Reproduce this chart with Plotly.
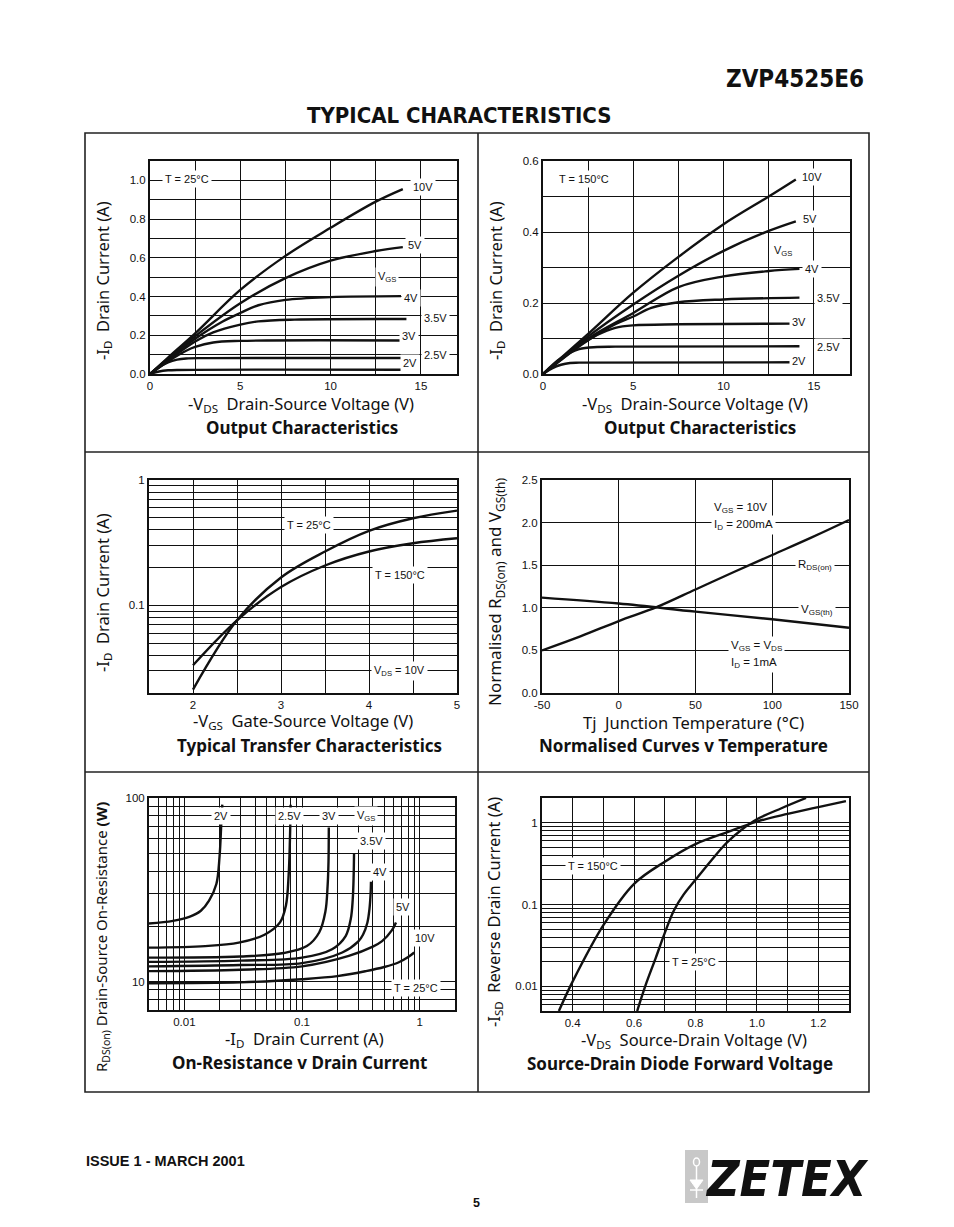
import numpy as np
import plotly.graph_objects as go

W, H = 954, 1227

# ---------------- DATA ----------------
# Panel 1: Output characteristics, T = 25 C
out25_labels = ["10V", "5V", "4V", "3.5V", "3V", "2.5V", "2V"]
out25_vds = [
    [0, 1, 2.5, 5, 7.5, 10, 12.5, 14],
    [0, 1, 2.5, 5, 7.5, 10, 12.5, 14],
    [0, 1, 2.5, 4, 5, 6, 7.5, 10, 13.9],
    [0, 1, 2.5, 3.5, 5, 6, 8, 14.2],
    [0, 1, 2, 2.5, 3.5, 5, 14],
    [0, 0.5, 1, 1.5, 2, 3, 14],
    [0, 0.5, 1, 1.5, 14],
]
out25_id = [
    [0, 0.085, 0.21, 0.434, 0.61, 0.755, 0.89, 0.955],
    [0, 0.08, 0.195, 0.365, 0.495, 0.585, 0.635, 0.655],
    [0, 0.075, 0.182, 0.27, 0.315, 0.355, 0.383, 0.397, 0.402],
    [0, 0.07, 0.168, 0.215, 0.255, 0.272, 0.281, 0.284],
    [0, 0.065, 0.12, 0.14, 0.163, 0.171, 0.173],
    [0, 0.035, 0.06, 0.074, 0.08, 0.082, 0.083],
    [0, 0.013, 0.019, 0.021, 0.022],
]

# Panel 2: Output characteristics, T = 150 C
out150_vds = [
    [0, 1, 2.5, 5, 7.5, 10, 12.5, 14],
    [0, 1, 2.5, 5, 7.5, 10, 12.5, 14],
    [0, 1, 2.5, 5, 7.5, 10, 12.5, 14.2],
    [0, 1, 2.5, 4, 5, 6, 7.5, 10, 14.2],
    [0, 1, 2, 3, 4, 5, 7.5, 14],
    [0, 1, 2, 3, 4, 14.2],
    [0, 0.5, 1, 1.5, 2, 14],
]
out150_id = [
    [0, 0.045, 0.113, 0.229, 0.33, 0.422, 0.50, 0.548],
    [0, 0.043, 0.106, 0.196, 0.277, 0.347, 0.403, 0.43],
    [0, 0.042, 0.10, 0.172, 0.245, 0.275, 0.29, 0.296],
    [0, 0.04, 0.095, 0.14, 0.162, 0.186, 0.202, 0.21, 0.215],
    [0, 0.04, 0.08, 0.11, 0.13, 0.137, 0.14, 0.142],
    [0, 0.045, 0.07, 0.076, 0.077, 0.078],
    [0, 0.016, 0.026, 0.031, 0.032, 0.033],
]

# Panel 3: Transfer characteristics
tr_vgs = [2, 2.5, 3, 3.5, 4, 4.5, 5]
tr_id25 = [0.0213, 0.076, 0.167, 0.269, 0.393, 0.495, 0.57]
tr_id150 = [0.0333, 0.076, 0.14, 0.208, 0.269, 0.313, 0.343]

# Panel 4: Normalised curves v temperature
nt_tj = [-50, -25, 0, 25, 50, 75, 100, 125, 150]
nt_rds = [0.5, 0.665, 0.845, 1.01, 1.215, 1.42, 1.62, 1.82, 2.03]
nt_tj_vth = [-50, 0, 50, 100, 150]
nt_vth = [1.12, 1.05, 0.955, 0.865, 0.765]

# Panel 5: On-resistance v drain current (T = 25 C)
ron_labels = ["2V", "2.5V", "3V", "3.5V", "4V", "5V", "10V"]
ron_id = [
    [0.005, 0.008, 0.011, 0.0138, 0.0162, 0.0187, 0.0199, 0.0206, 0.021],
    [0.005, 0.015, 0.029, 0.048, 0.065, 0.073, 0.077, 0.079, 0.08],
    [0.005, 0.03, 0.07, 0.11, 0.14, 0.158, 0.165, 0.168, 0.169],
    [0.005, 0.03, 0.1, 0.18, 0.235, 0.26, 0.27, 0.275, 0.277],
    [0.005, 0.03, 0.1, 0.22, 0.3, 0.33, 0.36, 0.375, 0.383, 0.386],
    [0.005, 0.03, 0.1, 0.25, 0.4, 0.48, 0.58, 0.63],
    [0.005, 0.03, 0.1, 0.2, 0.35, 0.5, 0.66, 0.8, 0.9],
]
ron_r = [
    [20.7, 21.4, 22.5, 24.3, 27.6, 34, 48, 73, 92],
    [15.3, 15.6, 16.3, 18, 21, 26, 38, 60, 92],
    [13.5, 13.7, 14.3, 15.6, 18.5, 24, 33, 45, 69],
    [12.8, 13.0, 13.5, 15, 17.7, 22, 28, 38, 50],
    [12.1, 12.3, 12.6, 14.4, 16.5, 18, 21, 25, 30, 35],
    [11.4, 11.6, 12.1, 13.8, 15.5, 16.6, 19, 21],
    [9.8, 9.9, 10.3, 10.7, 11.4, 12, 12.7, 13.6, 14.4],
]

# Panel 6: Source-drain diode forward voltage
sd_v150 = [0.355, 0.4, 0.5, 0.6, 0.7, 0.8, 0.9, 1.0, 1.1, 1.2, 1.29]
sd_i150 = [0.005, 0.0115, 0.056, 0.179, 0.333, 0.546, 0.757, 1.03, 1.28, 1.55, 1.83]
sd_v25 = [0.61, 0.64, 0.67, 0.70, 0.73, 0.76, 0.8, 0.85, 0.9, 0.95, 1.0, 1.08, 1.16]
sd_i25 = [0.005, 0.011, 0.022, 0.045, 0.085, 0.13, 0.2, 0.34, 0.56, 0.82, 1.1, 1.5, 2.0]

# ---------------- HELPERS ----------------
OFF = 8  # page offset of the figure inside the browser page


def px(x):
    return (x - OFF) / W


def py(y):
    return 1 - (y - OFF) / H


def dom_x(a, b):
    return [px(a), px(b)]


def dom_y(top, bottom):
    return [py(bottom), py(top)]


TICKFONT = dict(family="Liberation Sans, Arial", size=11.5, color="#111")
LBLFONT = dict(family="Liberation Sans, Arial", size=11, color="#111")
TITLEFONT = dict(family="Noto Sans, Open Sans", size=16.5, color="#111")
SUBFONT = dict(family="Noto Sans, Open Sans", size=17, color="#111", weight="bold")


def axis(domain, anchor, **kw):
    d = dict(domain=domain, anchor=anchor, showline=True, mirror=True,
             linecolor="#111", linewidth=2, showgrid=True, gridcolor="#111",
             gridwidth=1, zeroline=False, ticks="", tickfont=TICKFONT,
             fixedrange=True, automargin=False)
    d.update(kw)
    return d


def log_vals(lo, hi, shown):
    vals = []
    e = int(np.floor(np.log10(lo)))
    while 10 ** e <= hi * 1.0001:
        for m in range(1, 10):
            v = m * 10 ** e
            if lo * 0.9999 <= v <= hi * 1.0001:
                vals.append(round(v, 10))
        e += 1
    text = [(s if (s := shown.get(v)) is not None else "") for v in vals]
    return vals, text


fig = go.Figure()


def curve(xs, ys, ax):
    fig.add_trace(go.Scatter(
        x=xs, y=ys, mode="lines", xaxis="x" + ax, yaxis="y" + ax,
        line=dict(color="#111", width=2.4, shape="spline", smoothing=1.0),
        showlegend=False, hoverinfo="skip"))


for xs, ys in zip(out25_vds, out25_id):
    curve(xs, ys, "")
for xs, ys in zip(out150_vds, out150_id):
    curve(xs, ys, "2")
curve(tr_vgs, tr_id25, "3")
curve(tr_vgs, tr_id150, "3")
curve(nt_tj, nt_rds, "4")
curve(nt_tj_vth, nt_vth, "4")
for xs, ys in zip(ron_id, ron_r):
    curve(xs, ys, "5")
curve(sd_v150, sd_i150, "6")
curve(sd_v25, sd_i25, "6")

# ---------------- AXES ----------------
vx = [0, 2.5, 5, 7.5, 10, 12.5, 15]
vx_t = ["0", "", "5", "", "10", "", "15"]
y1v = [round(0.1 * i, 1) for i in range(11)]
y1t = [f"{v:.1f}" if i % 2 == 0 else "" for i, v in enumerate(y1v)]
y2v = [round(0.1 * i, 1) for i in range(7)]
y2t = [f"{v:.1f}" if i % 2 == 0 else "" for i, v in enumerate(y2v)]

x3v = [1.5, 2, 2.5, 3, 3.5, 4, 4.5, 5]
x3t = ["", "2", "", "3", "", "4", "", "5"]
y3v, y3t = log_vals(0.02, 1, {0.1: "0.1", 1: "1"})

x4v = [-50, 0, 50, 100, 150]
x4t = ["-50", "0", "50", "100", "150"]

x5v, x5t = log_vals(0.005, 2, {0.01: "0.01", 0.1: "0.1", 1: "1"})
y5v, y5t = log_vals(7, 100, {10: "10", 100: "100"})

x6v = [round(0.3 + 0.1 * i, 1) for i in range(11)]
x6t = [f"{v:.1f}" if v in (0.4, 0.6, 0.8, 1.0, 1.2) else "" for v in x6v]
y6v, y6t = log_vals(0.005, 2, {0.01: "0.01", 0.1: "0.1", 1: "1"})

fig.update_layout(
    xaxis=axis(dom_x(150, 457), "y", range=[0, 17], tickvals=vx, ticktext=vx_t),
    yaxis=axis(dom_y(161, 374), "x", range=[0, 1.1], tickvals=y1v, ticktext=y1t),
    xaxis2=axis(dom_x(543, 850), "y2", range=[0, 17], tickvals=vx, ticktext=vx_t),
    yaxis2=axis(dom_y(161, 374), "x2", range=[0, 0.6], tickvals=y2v, ticktext=y2t),
    xaxis3=axis(dom_x(149, 457), "y3", range=[1.5, 5], tickvals=x3v, ticktext=x3t),
    yaxis3=axis(dom_y(480, 693), "x3", type="log", range=[np.log10(0.02), 0],
                tickvals=y3v, ticktext=y3t),
    xaxis4=axis(dom_x(542, 849), "y4", range=[-50, 150],
                tickvals=x4v, ticktext=x4t),
    yaxis4=axis(dom_y(480, 693), "x4", range=[0, 2.5],
                tickvals=[0, 0.5, 1, 1.5, 2, 2.5],
                ticktext=["0.0", "0.5", "1.0", "1.5", "2.0", "2.5"]),
    xaxis5=axis(dom_x(149, 455), "y5", type="log",
                range=[np.log10(0.005), np.log10(2)], tickvals=x5v, ticktext=x5t),
    yaxis5=axis(dom_y(798, 1010), "x5", type="log",
                range=[np.log10(7), 2], tickvals=y5v, ticktext=y5t),
    xaxis6=axis(dom_x(542, 849), "y6", range=[0.3, 1.3], tickvals=x6v, ticktext=x6t),
    yaxis6=axis(dom_y(798, 1011), "x6", type="log",
                range=[np.log10(0.005), np.log10(2)], tickvals=y6v, ticktext=y6t),
)

# ---------------- ANNOTATIONS ----------------
ann = []


def lab(text, x, y, ax, xanchor="center", size=11):
    ann.append(dict(text=text, x=x, y=y, xref="x" + ax, yref="y" + ax,
                    showarrow=False, bgcolor="white", borderpad=2,
                    xanchor=xanchor, yanchor="middle",
                    font=dict(LBLFONT, size=size)))


p1_lab = [("T = 25°C", 2.04, 1.009), ("10V", 15.1, 0.966), ("5V", 14.7, 0.666),
          ("V<sub>GS</sub>", 13.1, 0.503), ("4V", 14.45, 0.39),
          ("3.5V", 15.8, 0.29), ("3V", 14.35, 0.194), ("2.5V", 15.8, 0.10),
          ("2V", 14.4, 0.057)]
for t, x, y in p1_lab:
    lab(t, x, y, "")

p2_lab = [("T = 150°C", 2.27, 0.55), ("10V", 14.9, 0.555), ("5V", 14.8, 0.436),
          ("V<sub>GS</sub>", 13.3, 0.346), ("4V", 14.9, 0.296),
          ("3.5V", 15.8, 0.213), ("3V", 14.2, 0.146), ("2.5V", 15.8, 0.076),
          ("2V", 14.2, 0.036)]
for t, x, y in p2_lab:
    lab(t, x, y, "2")

p3_lab = [("T = 25°C", 3.32, 0.438), ("T = 150°C", 4.35, 0.175),
          ("V<sub>DS</sub> = 10V", 4.35, 0.0298)]
for t, x, y in p3_lab:
    lab(t, x, np.log10(y), "3")

p4_lab = [("V<sub>GS</sub> = 10V", 60.4, 2.17, "left"),
          ("I<sub>D</sub> = 200mA", 60.4, 1.97, "left"),
          ("R<sub>DS(on)</sub>", 127.8, 1.5, "center"),
          ("V<sub>GS(th)</sub>", 129, 0.98, "center"),
          ("V<sub>GS</sub> = V<sub>DS</sub>", 70.9, 0.55, "left"),
          ("I<sub>D</sub> = 1mA", 70.9, 0.357, "left")]
for t, x, y, a in p4_lab:
    lab(t, x, y, "4", xanchor=a, size=11.5)

p5_lab = [("2V", 0.0203, 80), ("2.5V", 0.0787, 80), ("3V", 0.168, 80),
          ("V<sub>GS</sub>", 0.347, 80), ("3.5V", 0.389, 58), ("4V", 0.46, 39.5),
          ("5V", 0.728, 25.4), ("10V", 1.12, 17.2), ("T = 25°C", 0.94, 9.2)]
for t, x, y in p5_lab:
    lab(t, np.log10(x), np.log10(y), "5")

p6_lab = [("T = 150°C", 0.465, 0.293), ("T = 25°C", 0.795, 0.0201)]
for t, x, y in p6_lab:
    lab(t, x, np.log10(y), "6")


def ptext(text, x, y, font, angle=0, xanchor="center", yanchor="middle"):
    ann.append(dict(text=text, x=px(x), y=py(y), xref="paper", yref="paper",
                    showarrow=False, font=font, textangle=angle,
                    xanchor=xanchor, yanchor=yanchor))


ptext("-V<sub>DS</sub>  Drain-Source Voltage (V)", 301, 404, TITLEFONT)
ptext("Output Characteristics", 302, 427, SUBFONT)
ptext("-I<sub>D</sub>  Drain Current (A)", 103, 281, TITLEFONT, angle=-90)

ptext("-V<sub>DS</sub>  Drain-Source Voltage (V)", 695, 404, TITLEFONT)
ptext("Output Characteristics", 700, 427, SUBFONT)
ptext("-I<sub>D</sub>  Drain Current (A)", 496, 281, TITLEFONT, angle=-90)

ptext("-V<sub>GS</sub>  Gate-Source Voltage (V)", 303, 721, TITLEFONT)
ptext("Typical Transfer Characteristics", 309, 745, SUBFONT)
ptext("-I<sub>D</sub>  Drain Current (A)", 103, 593, TITLEFONT, angle=-90)

ptext("Tj  Junction Temperature (°C)", 693, 722, TITLEFONT)
ptext("Normalised Curves v Temperature", 683, 745, SUBFONT)
ptext("Normalised R<sub>DS(on)</sub> and V<sub>GS(th)</sub>", 495, 592,
      dict(TITLEFONT, size=17), angle=-90)

ptext("-I<sub>D</sub>  Drain Current (A)", 304, 1039, TITLEFONT)
ptext("On-Resistance v Drain Current", 299, 1062, SUBFONT)
ptext("R<sub>DS(on)</sub> Drain-Source On-Resistance <b>(W)</b>", 102, 937,
      dict(TITLEFONT, size=15), angle=-90)

ptext("-V<sub>DS</sub>  Source-Drain Voltage (V)", 694, 1040, TITLEFONT)
ptext("Source-Drain Diode Forward Voltage", 680, 1063, SUBFONT)
ptext("-I<sub>SD</sub>  Reverse Drain Current (A)", 494, 912, TITLEFONT, angle=-90)

COND = "DejaVu Sans Condensed, Liberation Sans Narrow, sans-serif"
ptext("ZVP4525E6", 866, 79, dict(family=COND, size=24, color="#111",
                                 weight="bold"), xanchor="right")
ptext("TYPICAL CHARACTERISTICS", 459, 116, dict(family=COND, size=22,
                                                color="#111", weight="bold"))
ptext("ISSUE 1 - MARCH 2001", 84, 1161, dict(family="Liberation Sans, Arial",
                                             size=14.5, color="#111",
                                             weight="bold"), xanchor="left")
ptext("5", 476, 1203, dict(family="Liberation Sans, Arial", size=12.5,
                           color="#111", weight="bold"))
ptext("ZETEX", 871, 1179, dict(family=COND, size=50, color="#111",
                               weight="bold", style="italic"),
      xanchor="right")

fig.update_layout(annotations=ann)

# ---------------- FRAME & LOGO SHAPES ----------------
shapes = []
LW = 1.6
shapes.append(dict(type="rect", xref="paper", yref="paper",
                   x0=px(85), x1=px(869), y0=py(1092), y1=py(133),
                   line=dict(color="#222", width=LW)))
shapes.append(dict(type="line", xref="paper", yref="paper",
                   x0=px(478), x1=px(478), y0=py(1092), y1=py(133),
                   line=dict(color="#222", width=LW)))
for yy in (452, 772):
    shapes.append(dict(type="line", xref="paper", yref="paper",
                       x0=px(85), x1=px(869), y0=py(yy), y1=py(yy),
                       line=dict(color="#222", width=LW)))
shapes.append(dict(type="rect", xref="paper", yref="paper",
                   x0=px(685), x1=px(708), y0=py(1203), y1=py(1150),
                   fillcolor="#c8c8c8", line=dict(width=0)))
shapes.append(dict(type="line", xref="paper", yref="paper",
                   x0=px(696.5), x1=px(696.5), y0=py(1198), y1=py(1166),
                   line=dict(color="white", width=1.5)))
shapes.append(dict(type="path", xref="paper", yref="paper",
                   path=f"M {px(690)} {py(1180)} L {px(703)} {py(1180)} "
                        f"L {px(696.5)} {py(1189)} Z",
                   fillcolor="white", line=dict(color="white", width=1)))
shapes.append(dict(type="line", xref="paper", yref="paper",
                   x0=px(690), x1=px(703), y0=py(1190), y1=py(1190),
                   line=dict(color="white", width=1.5)))
shapes.append(dict(type="circle", xref="paper", yref="paper",
                   x0=px(693.5), x1=px(699.5), y0=py(1166), y1=py(1158),
                   line=dict(color="white", width=1.5)))

fig.update_layout(
    shapes=shapes,
    width=W, height=H, autosize=False,
    margin=dict(l=0, r=0, t=0, b=0, pad=0, autoexpand=False),
    paper_bgcolor="white", plot_bgcolor="white",
    showlegend=False,
)

fig.write_html("out.html")
